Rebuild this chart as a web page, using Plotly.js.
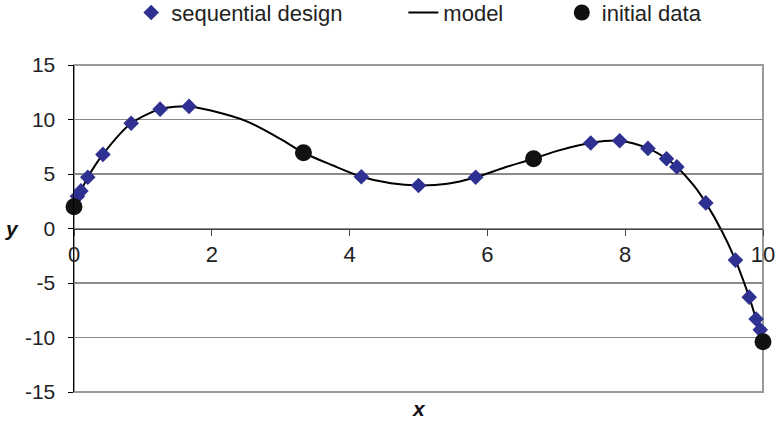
<!DOCTYPE html>
<html>
<head>
<meta charset="utf-8">
<script src="https://cdn.plot.ly/plotly-3.0.1.min.js"></script>
<style>html,body{margin:0;padding:0;background:#fff;}#chart{width:776px;height:442px;}</style>
</head>
<body>
<div id="chart"></div>
<script>
// Model curve
var modelX = [0, 0.05, 0.1, 0.2, 0.42, 0.83, 1.25, 1.67, 2.0, 2.5, 3.0, 3.33, 3.75, 4.17, 4.6, 5.0, 5.42, 5.83, 6.25, 6.67, 7.0, 7.5, 7.92, 8.33, 8.6, 8.75, 9.0, 9.17, 9.4, 9.6, 9.8, 9.9, 9.96, 10];
var modelY = [2.0, 2.95, 3.45, 4.7, 6.8, 9.65, 10.95, 11.2, 10.8, 9.85, 8.2, 6.95, 5.8, 4.75, 4.15, 3.95, 4.1, 4.7, 5.6, 6.4, 7.1, 7.85, 8.05, 7.35, 6.4, 5.65, 3.9, 2.35, -0.2, -2.9, -6.3, -8.3, -9.3, -10.4];
// Sequential design points
var seqX = [0.05, 0.1, 0.2, 0.42, 0.83, 1.25, 1.67, 4.17, 5.0, 5.83, 7.5, 7.92, 8.33, 8.6, 8.75, 9.17, 9.6, 9.8, 9.9, 9.96];
var seqY = [2.95, 3.45, 4.7, 6.8, 9.65, 10.95, 11.2, 4.75, 3.95, 4.7, 7.85, 8.05, 7.35, 6.4, 5.65, 2.35, -2.9, -6.3, -8.3, -9.3];
// Initial data points
var initX = [0, 3.33, 6.67, 10];
var initY = [2.0, 6.95, 6.4, -10.4];
// Tick labels
var xTicks = [0, 2, 4, 6, 8, 10];
var yTicks = [-15, -10, -5, 0, 5, 10, 15];

var FONT = 'Liberation Sans, Arial, sans-serif';

var traces = [
  {x: modelX, y: modelY, type: 'scatter', mode: 'lines', name: 'model',
   line: {color: '#000000', width: 2, shape: 'spline', smoothing: 0.8}, legend: 'legend2', cliponaxis: false},
  {x: seqX, y: seqY, type: 'scatter', mode: 'markers', name: 'sequential design',
   marker: {symbol: 'diamond', size: 12, color: '#2e3192'}, legend: 'legend', cliponaxis: false},
  {x: initX, y: initY, type: 'scatter', mode: 'markers', name: 'initial data',
   marker: {symbol: 'circle', size: 17, color: '#111111'}, legend: 'legend3', cliponaxis: false}
];

var legBase = {orientation: 'h', yanchor: 'middle', y: 1.16, xanchor: 'left',
  font: {family: FONT, size: 22, color: '#222'}, bgcolor: 'rgba(0,0,0,0)', itemwidth: 30};

var layout = {
  width: 776, height: 442,
  margin: {l: 74, r: 13, t: 65, b: 50, pad: 0, autoexpand: false},
  paper_bgcolor: '#ffffff', plot_bgcolor: '#ffffff',
  showlegend: true,
  legend: Object.assign({}, legBase, {x: 0.083}),
  legend2: Object.assign({}, legBase, {x: 0.478}),
  legend3: Object.assign({}, legBase, {x: 0.708}),
  xaxis: {
    range: [0, 10], tickvals: xTicks, ticktext: xTicks.map(String),
    anchor: 'free', position: 0.5,
    showline: true, linecolor: '#444', linewidth: 1.5,
    ticks: 'outside', ticklen: 6, tickcolor: '#444', tickwidth: 1,
    showgrid: false, zeroline: false,
    tickfont: {family: FONT, size: 22, color: '#222'}
  },
  yaxis: {
    range: [-15, 15], tickvals: yTicks, ticktext: yTicks.map(String),
    showline: true, linecolor: '#000', linewidth: 1.5,
    ticks: 'outside', ticklen: 5, tickcolor: '#000',
    showgrid: true, gridcolor: '#8a8a8a', gridwidth: 1.5, zeroline: false,
    ticklabelstandoff: 8,
    tickfont: {family: FONT, size: 21, color: '#222'}
  },
  shapes: [
    {type: 'rect', xref: 'paper', yref: 'paper', x0: 0, x1: 1, y0: 0, y1: 1,
     line: {color: '#9a9a9a', width: 2}, fillcolor: 'rgba(0,0,0,0)', layer: 'below'}
  ],
  annotations: [
    {text: '<b><i>y</i></b>', xref: 'paper', yref: 'paper', x: -0.09, y: 0.5, xanchor: 'center', yanchor: 'middle',
     showarrow: false, font: {family: FONT, size: 21, color: '#111'}},
    {text: '<b><i>x</i></b>', xref: 'paper', yref: 'paper', x: 0.5, y: -0.049, xanchor: 'center', yanchor: 'middle',
     showarrow: false, font: {family: FONT, size: 21, color: '#111'}}
  ]
};

Plotly.newPlot('chart', traces, layout, {displayModeBar: false, staticPlot: true});
</script>
</body>
</html>
